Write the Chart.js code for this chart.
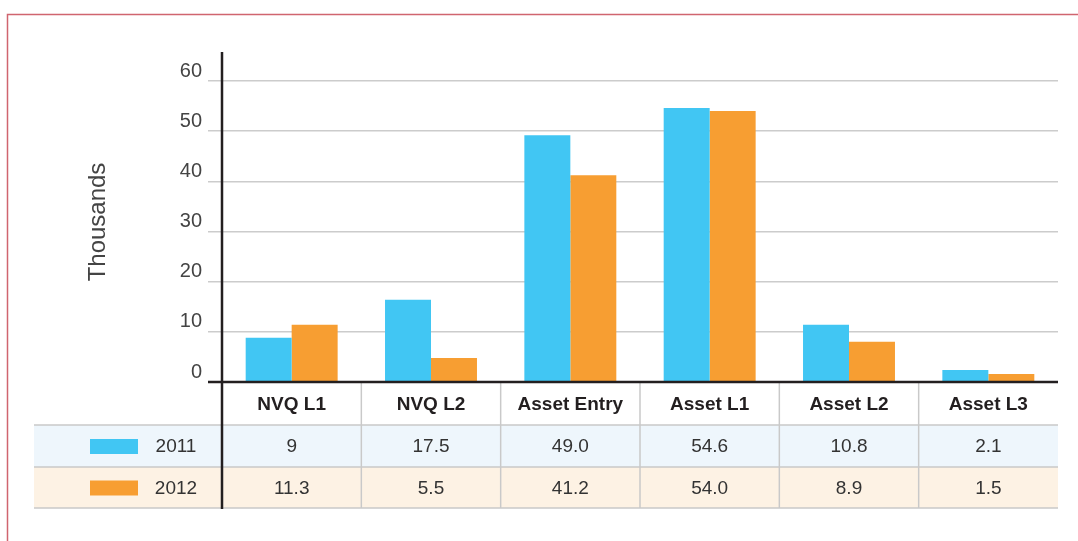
<!DOCTYPE html>
<html>
<head>
<meta charset="utf-8">
<script src="https://cdn.jsdelivr.net/npm/chart.js@4"></script>
<style>
  html, body { margin: 0; padding: 0; background: #fff; }
  canvas { display: block; }
</style>
</head>
<body>
<canvas id="qualChart" width="1078" height="541"></canvas>
<script>
const categories = ['NVQ L1', 'NVQ L2', 'Asset Entry', 'Asset L1', 'Asset L2', 'Asset L3'];
const seriesNames = ['2011', '2012'];
// bar heights as drawn
const values2011 = [8.8, 16.4, 49.2, 54.6, 11.4, 2.4];
const values2012 = [11.4, 4.8, 41.2, 54.0, 8.0, 1.6];
// figures printed in the table under the chart
const table2011 = ['9', '17.5', '49.0', '54.6', '10.8', '2.1'];
const table2012 = ['11.3', '5.5', '41.2', '54.0', '8.9', '1.5'];
const yTitle = 'Thousands';

const BLUE = '#41c6f3';
const ORANGE = '#f79e32';
const FONT = '"Liberation Sans", Arial, sans-serif';

const tablePlugin = {
    id: 'tablePlugin',
    beforeDraw(chart) {
        const ctx = chart.ctx;
        ctx.save();
        ctx.strokeStyle = '#d0656f';
        ctx.lineWidth = 1.5;
        ctx.beginPath();
        ctx.moveTo(7.5, 541);
        ctx.lineTo(7.5, 14.5);
        ctx.lineTo(1078, 14.5);
        ctx.stroke();
        ctx.restore();
    },
    afterDraw(chart) {
        const ctx = chart.ctx;
        const x = chart.scales.x;
        const area = chart.chartArea;
        const left = 34, right = area.right;
        const rowTop = [425, 467], rowBottom = 508;
        const rowTexts = [table2011, table2012];
        const rowBg = ['#eef6fc', '#fdf2e4'];
        const swatch = [BLUE, ORANGE];

        ctx.save();
        // y title, sits a bit above the middle of the plot
        ctx.save();
        ctx.translate(98, 222);
        ctx.rotate(-Math.PI / 2);
        ctx.font = '24px ' + FONT;
        ctx.fillStyle = '#444';
        ctx.textAlign = 'center';
        ctx.textBaseline = 'middle';
        ctx.fillText(yTitle, 0, 0);
        ctx.restore();

        // row backgrounds
        rowTop.forEach((top, r) => {
            const bottom = r + 1 < rowTop.length ? rowTop[r + 1] : rowBottom;
            ctx.fillStyle = rowBg[r];
            ctx.fillRect(left, top, right - left, bottom - top);
        });

        // row lines
        ctx.strokeStyle = '#c9c9c9';
        ctx.lineWidth = 1.5;
        [...rowTop, rowBottom].forEach(y => {
            ctx.beginPath();
            ctx.moveTo(left, y);
            ctx.lineTo(right, y);
            ctx.stroke();
        });

        // column separators
        for (let i = 1; i < categories.length; i++) {
            const cx = (x.getPixelForValue(i - 1) + x.getPixelForValue(i)) / 2;
            ctx.beginPath();
            ctx.moveTo(cx, area.bottom + 1);
            ctx.lineTo(cx, rowBottom);
            ctx.stroke();
        }

        // cell texts and legend keys
        ctx.font = '19px ' + FONT;
        ctx.fillStyle = '#333';
        ctx.textAlign = 'center';
        ctx.textBaseline = 'middle';
        rowTop.forEach((top, r) => {
            const bottom = r + 1 < rowTop.length ? rowTop[r + 1] : rowBottom;
            const cy = (top + bottom) / 2 + 1;
            rowTexts[r].forEach((t, i) => {
                ctx.fillText(t, x.getPixelForValue(i), cy);
            });
            ctx.fillStyle = swatch[r];
            ctx.fillRect(90, cy - 8, 48, 15);
            ctx.fillStyle = '#333';
            ctx.fillText(seriesNames[r], 176, cy);
        });

        // axis lines
        ctx.strokeStyle = '#231f20';
        ctx.lineWidth = 2.5;
        ctx.beginPath();
        ctx.moveTo(208, area.bottom);
        ctx.lineTo(right, area.bottom);
        ctx.stroke();
        ctx.beginPath();
        ctx.moveTo(area.left, 52);
        ctx.lineTo(area.left, rowBottom + 1);
        ctx.stroke();
        ctx.restore();
    }
};

new Chart(document.getElementById('qualChart').getContext('2d'), {
    type: 'bar',
    data: {
        labels: categories,
        datasets: [
            { label: seriesNames[0], data: values2011, backgroundColor: BLUE, borderWidth: 0 },
            { label: seriesNames[1], data: values2012, backgroundColor: ORANGE, borderWidth: 0 }
        ]
    },
    options: {
        responsive: false,
        animation: false,
        categoryPercentage: 0.66,
        barPercentage: 1,
        layout: { padding: { top: 81, left: 84, right: 20, bottom: 33 } },
        plugins: {
            legend: { display: false },
            tooltip: { enabled: false }
        },
        scales: {
            x: {
                grid: { display: false, drawTicks: false },
                border: { display: false },
                ticks: {
                    padding: 11,
                    color: '#231f20',
                    font: { family: FONT, size: 19, weight: 'bold' }
                },
                afterFit(scale) { scale.height = 126; }
            },
            y: {
                min: 0,
                max: 60,
                ticks: {
                    stepSize: 10,
                    padding: 6,
                    labelOffset: -10,
                    color: '#444',
                    font: { family: FONT, size: 20 }
                },
                grid: { color: '#cccccc', lineWidth: 1.5, tickLength: 14 },
                border: { display: false },
                afterFit(scale) { scale.width = 138; }
            }
        }
    },
    plugins: [tablePlugin]
});
</script>
</body>
</html>
